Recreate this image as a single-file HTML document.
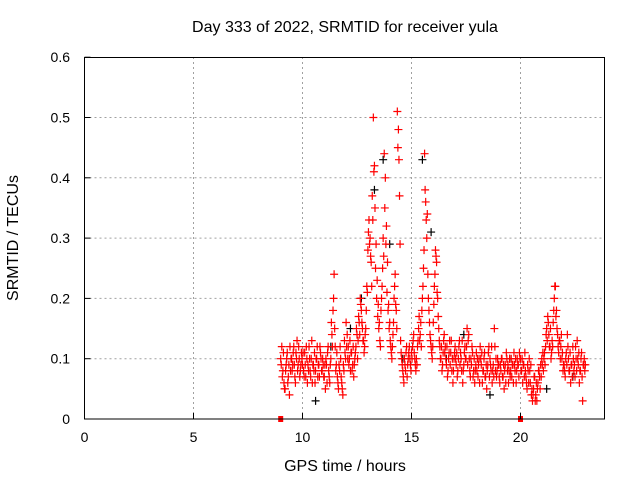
<!DOCTYPE html>
<html><head><meta charset="utf-8"><style>
body{margin:0;background:#fff}
svg{display:block;font-family:"Liberation Sans",sans-serif}
</style></head><body>
<svg id="chart" width="640" height="480" xmlns="http://www.w3.org/2000/svg">
<text x="345" y="32" font-size="16" text-anchor="middle">Day 333 of 2022, SRMTID for receiver yula</text>
<text x="345" y="471" font-size="16" text-anchor="middle">GPS time / hours</text>
<text transform="translate(18,238) rotate(-90)" font-size="16" text-anchor="middle">SRMTID / TECUs</text>
<g id="grid"></g><g id="marks"></g>
<rect x="84.5" y="57.5" width="520" height="361.5" fill="none" stroke="#000" stroke-width="1"/>
<g id="ticks"></g>
</svg>
<script>
const xTicks=[0,5,10,15,20];
const yTicks=[0,0.1,0.2,0.3,0.4,0.5,0.6];
const yTickLabels=["0","0.1","0.2","0.3","0.4","0.5","0.6"];
const redA=[.10,.12,.08,.06,.05,.09,.11,.07,.04,.08,.10,.09,.12,.07,.11,.13,.09,.10,.08,.11,
.09,.08,.11,.07,.10,.09,.12,.08,.10,.06,.09,.11,.08,.10,.07,.09,.12,.10,.08,.09,
.07,.05,.09,.11,.08,.06,.10,.14,.18,.24,.12,.09,.07,.05,.08,.10,.06,.04,.08,.11,
.16,.14,.12,.10,.08,.11,.09,.07,.10,.12,.14,.13,.16,.20,.18,.15,.13,.12,.15,.22,
.28,.33,.30,.26,.37,.50,.42,.25,.20,.17,.15,.13,.18,.22,.30,.44,.40,.32,.26,.19,
.16,.12,.10,.14,.20,.24,.18,.51,.48,.37,.13,.10,.08,.06,.09,.11,.07,.10,.12,.09,
.11,.12,.14,.10,.08,.09,.13,.17,.14,.12,.20,.25,.44,.36,.30,.24,.18,.14,.12,.10,
.16,.22,.28,.26,.20,.15,.12,.10,.08,.11,.14,.12,.09,.07,.10,.13,.11,.08,.06,.10,
.12,.09,.07,.10,.13,.11,.08,.06,.09,.12,.10,.15,.13,.10,.07,.09,.11,.08,.06,.09,
.08,.07,.10,.12,.09,.06,.08,.11,.07,.05,.09,.12,.10,.08,.06,.09,.15,.08,.07,.10,
.09,.06,.08,.10,.07,.05,.09,.11,.08,.06,.10,.08,.07,.09,.11,.08,.06,.10,.09,.11,
.10,.08,.06,.09,.11,.07,.05,.08,.10,.06,.04,.03,.05,.07,.04,.03,.06,.08,.05,.07,
.09,.08,.11,.12,.15,.17,.14,.12,.10,.13,.16,.20,.22,.18,.14,.11,.13,.12,.10,.08,
.09,.07,.11,.14,.10,.08,.06,.09,.12,.08,.07,.10,.13,.09,.06,.08,.11,.03,.09,.08];
const redB=[.09,.07,.11,.05,.08,.10,.06,.09,.12,.10,.08,.11,.09,.06,.10,.08,.12,.07,.09,.10,
.11,.07,.09,.12,.06,.08,.10,.07,.13,.09,.08,.06,.10,.12,.09,.07,.11,.08,.10,.07,
.09,.10,.06,.12,.07,.09,.16,.12,.20,.15,.08,.11,.06,.09,.12,.07,.05,.09,.13,.10,
.12,.10,.09,.13,.11,.08,.12,.09,.11,.15,.10,.17,.14,.19,.16,.13,.11,.14,.18,.21,
.31,.29,.27,.22,.33,.41,.35,.29,.23,.19,.16,.12,.20,.25,.27,.35,.29,.21,.18,.15,
.13,.11,.12,.16,.22,.19,.15,.45,.43,.29,.11,.09,.07,.10,.08,.12,.09,.11,.10,.08,
.10,.13,.11,.09,.10,.12,.15,.13,.16,.18,.22,.28,.38,.33,.34,.20,.16,.13,.11,.12,
.19,.24,.27,.21,.17,.13,.10,.12,.09,.13,.11,.10,.12,.08,.11,.09,.13,.10,.08,.11,
.10,.11,.08,.12,.09,.10,.13,.08,.11,.10,.12,.09,.14,.08,.10,.12,.07,.10,.08,.11,
.10,.09,.06,.10,.11,.08,.10,.07,.09,.08,.11,.07,.09,.12,.08,.07,.12,.10,.08,.09,
.07,.09,.10,.07,.09,.08,.06,.10,.09,.08,.07,.10,.09,.06,.09,.10,.08,.09,.07,.10,
.08,.10,.09,.07,.08,.06,.09,.06,.08,.09,.05,.04,.07,.03,.06,.05,.08,.07,.09,.10,
.11,.10,.09,.14,.13,.16,.12,.15,.11,.12,.18,.22,.17,.15,.12,.13,.10,.14,.11,.09,
.08,.10,.09,.12,.08,.11,.09,.07,.10,.09,.12,.08,.10,.11,.08,.10,.07,.09,.10,.09];
const blackT=[10.6,11.3,12.2,12.7,13.3,13.7,14.0,14.6,15.5,15.9,16.6,17.4,18.6,19.5,21.2,22.4];
const blackV=[0.03,0.12,0.15,0.20,0.38,0.43,0.29,0.10,0.43,0.31,0.10,0.14,0.04,0.10,0.05,0.07];
const gapT=[9.0,20.0];
const gapV=[0,0];
const startT=9.0, stepT=0.05;
const X=h=>84.5+h*21.8, Y=v=>419-v*603;
const NS="http://www.w3.org/2000/svg";
const grid=document.getElementById('grid'),marks=document.getElementById('marks'),ticks=document.getElementById('ticks');
function mk(tag,attrs,parent){const e=document.createElementNS(NS,tag);for(const k in attrs)e.setAttribute(k,attrs[k]);parent.appendChild(e);return e;}
xTicks.forEach(t=>{
 if(t>0){const g=mk('line',{x1:X(t),x2:X(t),y1:57,y2:419,stroke:'#a0a0a0','stroke-dasharray':'2,3'},grid);
 
 }
 const tk=mk('line',{x1:X(t),x2:X(t),y1:419,y2:413,stroke:'#000'},ticks);
 
 
 const l=mk('text',{x:X(t),y:442,'font-size':14,'text-anchor':'middle'},ticks);l.textContent=t;
 
 
});
yTicks.forEach((t,i)=>{
 if(t>0&&t<0.6){const g=mk('line',{x1:84.5,x2:604.5,y1:Y(t),y2:Y(t),stroke:'#a0a0a0','stroke-dasharray':'2,3'},grid);
 
 }
 const tk=mk('line',{x1:84.5,x2:90.5,y1:Y(t),y2:Y(t),stroke:'#000'},ticks);
 
 
 const l=mk('text',{x:70,y:Y(t)+5,'font-size':14,'text-anchor':'end'},ticks);l.textContent=yTickLabels[i];
 
 
});
function plus(h,v,color){
 const x=X(h),y=Y(v);
 const p=mk('path',{d:`M${x-4},${y}H${x+4}M${x},${y-4}V${y+4}`,stroke:color,'stroke-width':1.2,fill:'none'},marks);
 return p;
}
blackT.forEach((t,i)=>{const p=plus(t,blackV[i],'#000');
 
 });
redA.forEach((v,i)=>{const p=plus(startT+i*stepT,v,'#f00');
 
 });
redB.forEach((v,i)=>{const p=plus(startT+stepT/2+i*stepT,v,'#f00');
 
 });
gapT.forEach((t,i)=>{const r=mk('rect',{x:X(t)-2.5,y:Y(gapV[i])-3,width:5,height:6,fill:'#f00'},marks);
 
 });
</script>
</body></html>
